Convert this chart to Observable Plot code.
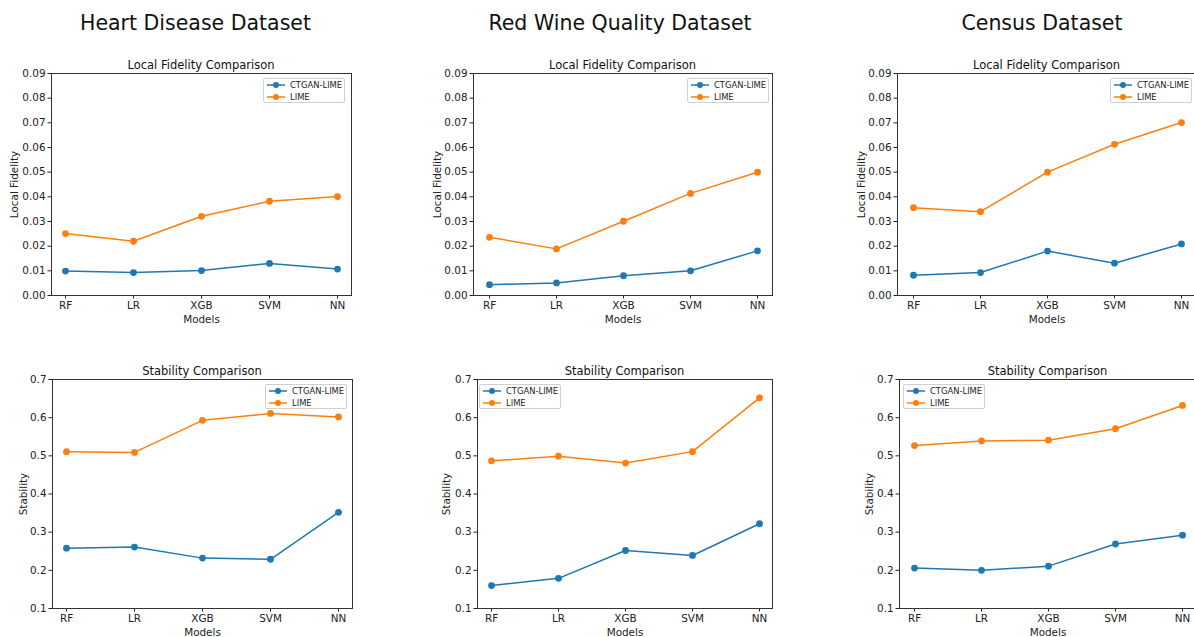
<!DOCTYPE html>
<html>
<head>
<meta charset="utf-8">
<script src="https://cdn.jsdelivr.net/npm/d3@7"></script>
<script src="https://cdn.jsdelivr.net/npm/@observablehq/plot@0.6"></script>
<style>
  html, body { margin: 0; padding: 0; background: #fff; }
  #root { position: relative; width: 1194px; height: 637px; overflow: hidden; background: #fff; font-family: "DejaVu Sans", sans-serif; }
  .panel { position: absolute; }
  .legend { position: absolute; box-sizing: border-box; border: 1px solid #d0d0d0; border-radius: 2px; background: rgba(255,255,255,0.85); font-size: 8.4px; color: #222; }
  .legend .row { position: absolute; left: 0; height: 10px; display: flex; align-items: center; white-space: nowrap; }
  .legend svg { display: block; margin-left: 3px; margin-right: 5px; }
  #overlay { position: absolute; left: 0; top: 0; pointer-events: none; }
</style>
</head>
<body>
<div id="root"></div>
<script>
// ---- data ----
const models = ["RF", "LR", "XGB", "SVM", "NN"];
const seriesNames = ["CTGAN-LIME", "LIME"];
const seriesColors = ["#1f77b4", "#ff7f0e"];
const datasetTitles = ["Heart Disease Dataset", "Red Wine Quality Dataset", "Census Dataset"];
const fidelityTitle = "Local Fidelity Comparison";
const stabilityTitle = "Stability Comparison";
const fidelityTicks = [0, 0.01, 0.02, 0.03, 0.04, 0.05, 0.06, 0.07, 0.08, 0.09];
const stabilityTicks = [0.1, 0.2, 0.3, 0.4, 0.5, 0.6, 0.7];

const heartFidelityCtgan = [0.0099, 0.0093, 0.0101, 0.0130, 0.0107];
const heartFidelityLime = [0.0251, 0.0220, 0.0321, 0.0382, 0.0401];
const wineFidelityCtgan = [0.0044, 0.0051, 0.0080, 0.0100, 0.0181];
const wineFidelityLime = [0.0236, 0.0189, 0.0301, 0.0414, 0.0500];
const censusFidelityCtgan = [0.0082, 0.0093, 0.0180, 0.0131, 0.0209];
const censusFidelityLime = [0.0356, 0.0340, 0.0500, 0.0613, 0.0701];

const heartStabilityCtgan = [0.258, 0.261, 0.232, 0.229, 0.352];
const heartStabilityLime = [0.511, 0.509, 0.593, 0.611, 0.602];
const wineStabilityCtgan = [0.160, 0.179, 0.252, 0.239, 0.322];
const wineStabilityLime = [0.487, 0.499, 0.481, 0.511, 0.652];
const censusStabilityCtgan = [0.206, 0.200, 0.211, 0.269, 0.292];
const censusStabilityLime = [0.527, 0.539, 0.541, 0.571, 0.632];

// ---- layout ----
const panels = [
  {fx: 51, fy: 73, fw: 300, fh: 222, ctgan: heartFidelityCtgan, lime: heartFidelityLime, kind: "fid", yOff: 41, legend: [263, 78]},
  {fx: 473, fy: 73, fw: 299, fh: 222, ctgan: wineFidelityCtgan, lime: wineFidelityLime, kind: "fid", yOff: 40, legend: [687, 78]},
  {fx: 897, fy: 73, fw: 299, fh: 222, ctgan: censusFidelityCtgan, lime: censusFidelityLime, kind: "fid", yOff: 40, legend: [1110, 78]},
  {fx: 52, fy: 379, fw: 300, fh: 229, ctgan: heartStabilityCtgan, lime: heartStabilityLime, kind: "stab", yOff: 33, legend: [265, 384]},
  {fx: 477, fy: 379, fw: 295, fh: 229, ctgan: wineStabilityCtgan, lime: wineStabilityLime, kind: "stab", yOff: 35, legend: [479, 384]},
  {fx: 899, fy: 379, fw: 297, fh: 229, ctgan: censusStabilityCtgan, lime: censusStabilityLime, kind: "stab", yOff: 34, legend: [903, 384]}
];

const root = document.getElementById("root");
const ML = 55, MT = 8, MR = 8, MB = 32;

panels.forEach(p => {
  const rows = [];
  models.forEach((m, i) => {
    rows.push({model: m, series: seriesNames[0], value: p.ctgan[i]});
    rows.push({model: m, series: seriesNames[1], value: p.lime[i]});
  });
  const fid = p.kind === "fid";
  const chart = Plot.plot({
    width: ML + p.fw + MR,
    height: MT + p.fh + MB,
    marginLeft: ML, marginTop: MT, marginRight: MR, marginBottom: MB,
    style: {fontFamily: "DejaVu Sans", fontSize: "10.4px", background: "transparent", color: "#222", overflow: "visible"},
    x: {type: "point", domain: models, padding: 0.2, align: 0.5, label: "Models", labelAnchor: "center", labelArrow: "none", labelOffset: 27, tickSize: 3.5, tickPadding: 2.5},
    y: {
      domain: fid ? [0, 0.09] : [0.1, 0.7],
      ticks: fid ? fidelityTicks : stabilityTicks,
      tickFormat: fid ? d3.format(".2f") : d3.format(".1f"),
      label: fid ? "Local Fidelity" : "Stability",
      labelAnchor: "center", labelArrow: "none", labelOffset: p.yOff, tickSize: 3.5, tickPadding: 2.5
    },
    color: {domain: seriesNames, range: seriesColors},
    marks: [
      Plot.line(rows, {x: "model", y: "value", z: "series", stroke: "series", strokeWidth: 1.5}),
      Plot.dot(rows, {x: "model", y: "value", fill: "series", r: 3.4}),
      Plot.frame({stroke: "#333", strokeWidth: 1})
    ]
  });
  chart.classList.add("panel");
  chart.style.left = (p.fx - ML) + "px";
  chart.style.top = (p.fy - MT) + "px";
  root.appendChild(chart);

  // legend
  const lg = document.createElement("div");
  lg.className = "legend";
  lg.style.left = p.legend[0] + "px";
  lg.style.top = p.legend[1] + "px";
  lg.style.width = "82px";
  lg.style.height = "25px";
  seriesNames.forEach((s, i) => {
    const r = document.createElement("div");
    r.className = "row";
    r.style.top = (1 + i * 12) + "px";
    r.innerHTML = `<svg width="18" height="8"><line x1="0" x2="18" y1="4" y2="4" stroke="${seriesColors[i]}" stroke-width="1.5"/><circle cx="9" cy="4" r="3" fill="${seriesColors[i]}"/></svg><span>${s}</span>`;
    lg.appendChild(r);
  });
  root.appendChild(lg);
});

// titles
const overlay = d3.select(root).append("svg").attr("id", "overlay").attr("width", 1194).attr("height", 637)
  .style("font-family", "DejaVu Sans");
const titleCenters = [195.5, 620, 1042];
datasetTitles.forEach((t, i) => {
  overlay.append("text").attr("x", titleCenters[i]).attr("y", 30).attr("text-anchor", "middle")
    .attr("font-size", 20.5).attr("fill", "#111").text(t);
});
panels.forEach(p => {
  overlay.append("text").attr("x", p.fx + p.fw / 2).attr("y", p.fy - 4.5).attr("text-anchor", "middle")
    .attr("font-size", 11.5).attr("fill", "#111").text(p.kind === "fid" ? fidelityTitle : stabilityTitle);
});
</script>
</body>
</html>
